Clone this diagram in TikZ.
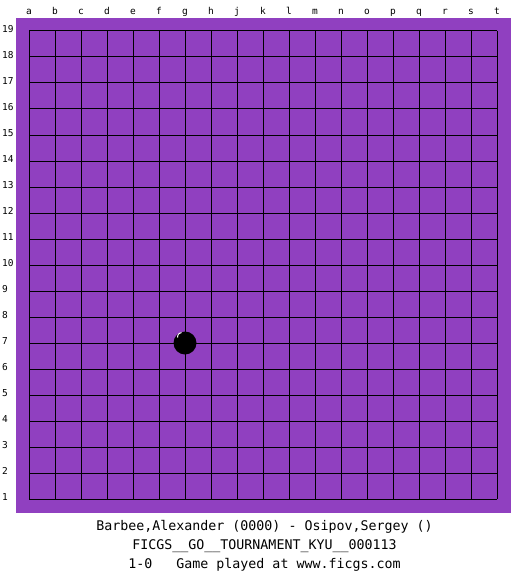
\documentclass[tikz,border=0pt]{standalone}
\usepackage{fontspec}
\setmonofont{DejaVu Sans Mono}
\definecolor{board}{RGB}{144,64,192}
\begin{document}
\begin{tikzpicture}[x=1pt,y=-1pt,
  lbl/.style={font=\fontsize{9.5}{10}\selectfont\ttfamily, inner sep=0pt},
  info/.style={font=\fontsize{13.3}{15}\selectfont\ttfamily, inner sep=0pt, anchor=base},
  gridline/.style={line width=1pt, black}]
\useasboundingbox (0,0) rectangle (525,575);
\fill[white] (0,0) rectangle (525,575);
\fill[board] (16,18) rectangle (511,512.5);
\foreach \i in {0,...,18} {
  \draw[gridline] (29+26*\i,31) -- (29+26*\i,499);
  \draw[gridline] (29,31+26*\i) -- (497,31+26*\i);
}
\foreach \l [count=\i from 0] in {a,b,c,d,e,f,g,h,j,k,l,m,n,o,p,q,r,s,t}
  \node[lbl, anchor=base] (col\l) at (29+26*\i, 14.5) {\l};
\foreach \n in {1,...,19}
  \node[lbl, anchor=base west] (row\n) at (2, 31+26*19-26*\n+1.5) {\n};
\fill[black] (185,343) circle (11.5);
\draw[white, line width=1pt] (177.5,337.5) .. controls (178,334) .. (181.5,332.5);
\node[info] (players) at (264.5,530.7) {Barbee,Alexander (0000) - Osipov,Sergey ()};
\node[info] (event) at (264.5,549.4) {FICGS\_\_GO\_\_TOURNAMENT\_KYU\_\_000113};
\node[info] (result) at (264.5,568.4) {1-0~~~Game played at www.ficgs.com};
\end{tikzpicture}
\end{document}
